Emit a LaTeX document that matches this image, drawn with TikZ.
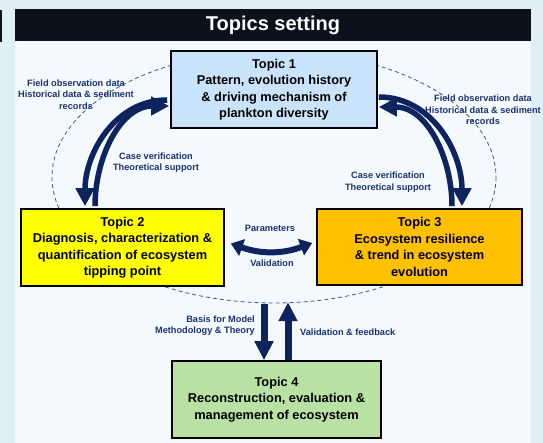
\documentclass[tikz,border=0pt]{standalone}
\usepackage{fontspec}
\setmainfont{Liberation Sans}
\usetikzlibrary{arrows.meta,calc}
\definecolor{navy}{HTML}{0E245F}
\definecolor{lblc}{HTML}{1A3272}
\definecolor{bgout}{HTML}{E0EEF8}
\definecolor{panel}{HTML}{F4F9FD}
\definecolor{barc}{HTML}{0B111D}
\definecolor{cone}{HTML}{C9E4FA}
\definecolor{ctwo}{HTML}{FFFF00}
\definecolor{cthree}{HTML}{FFC000}
\definecolor{cfour}{HTML}{B9E1A4}
\definecolor{dashc}{HTML}{3A5A8E}
\begin{document}
\begin{tikzpicture}[x=1pt,y=-1pt,
  topic/.style={draw=black,line width=1.6pt,minimum height=77pt,align=center,
    font=\bfseries\fontsize{12.8}{16.5}\selectfont,inner sep=2pt},
  lbl/.style={text=lblc,align=center,font=\bfseries\fontsize{9.2}{11.5}\selectfont,inner sep=0pt},
  arcarrow/.style={draw=navy,line width=5.5pt,-{Triangle[width=18pt,length=18pt]}},
  varrow/.style={draw=navy,line width=7pt,-{Triangle[width=18pt,length=19pt]}},
  dblarrow/.style={draw=navy,line width=6pt,{Triangle[width=17pt,length=12pt]}-{Triangle[width=17pt,length=12pt]}}
]
\useasboundingbox (0,0) rectangle (543,443);
% background
\fill[bgout] (0,0) rectangle (543,443);
\fill[panel] (15,41) rectangle (531,443);
\fill[barc] (15,9) rectangle (531,41);
\fill[barc] (0,10) rectangle (2,42);
\node[text=white,font=\bfseries\fontsize{20}{24}\selectfont] (title) at (273,25) {Topics setting};
% dashed ellipse
\draw[dashc,line width=0.8pt,dash pattern=on 4pt off 3pt] (274,177) ellipse [x radius=222, y radius=126];
% topic boxes
\node[topic,fill=cone,minimum width=206pt] (t1) at (274,89.5) {Topic 1\\Pattern, evolution history\\\& driving mechanism of\\plankton diversity};
\node[topic,fill=ctwo,minimum width=203pt] (t2) at (122.5,247.5) {Topic 2\\Diagnosis, characterization \&\\quantification of ecosystem\\tipping point};
\node[topic,fill=cthree,minimum width=205pt,minimum height=76pt] (t3) at (419.5,247) {Topic 3\\Ecosystem resilience\\\& trend in ecosystem\\evolution};
\node[topic,fill=cfour,minimum width=209pt] (t4) at (276.5,399.5) {Topic 4\\Reconstruction, evaluation \&\\management of ecosystem};
% curved arrows left
\draw[arcarrow] ($(t1.west)+(-3,10.5)$) to[out=180,in=90] ($(t2.north)+(-37.5,-2)$);
\draw[arcarrow] ($(t2.north)+(-27.5,-2)$) to[out=90,in=180] ($(t1.west)+(-1,16.5)$);
% curved arrows right
\draw[arcarrow] ($(t1.east)+(1,7.5)$) to[out=0,in=90] ($(t3.north)+(42.5,-2)$);
\draw[arcarrow] ($(t3.north)+(32.5,-2)$) to[out=90,in=0] ($(t1.east)+(1,17.5)$);
% middle double arrow
\draw[dblarrow] ($(t2.east)+(6,-4)$) to[bend right=20] ($(t3.west)+(-4,-4)$);
% vertical arrows
\coordinate (vtop1) at ($(t4.north)+(-12.5,-56)$);
\coordinate (vtop2) at ($(t4.north)+(11.5,-58)$);
\draw[varrow] (vtop1) -- ($(t4.north)+(-12.5,0)$);
\draw[varrow] ($(t4.north)+(11.5,0)$) -- (vtop2);
% labels
\node[lbl] (lfl) at (76,94.5) {Field observation data\\Historical data \& sediment\\records};
\node[lbl] (lfr) at (483,110) {Field observation data\\Historical data \& sediment\\records};
\node[lbl] (lcl) at (156,162.5) {Case verification\\Theoretical support};
\node[lbl] (lcr) at (388,182) {Case verification\\Theoretical support};
\node[lbl] (lpar) at (270,228) {Parameters};
\node[lbl] (lval) at (272,263) {Validation};
\node[lbl,align=right,anchor=east] (lbas) at (255,325.5) {Basis for Model\\Methodology \& Theory};
\node[lbl,anchor=west] (lvf) at (300,332) {Validation \& feedback};
\end{tikzpicture}
\end{document}
